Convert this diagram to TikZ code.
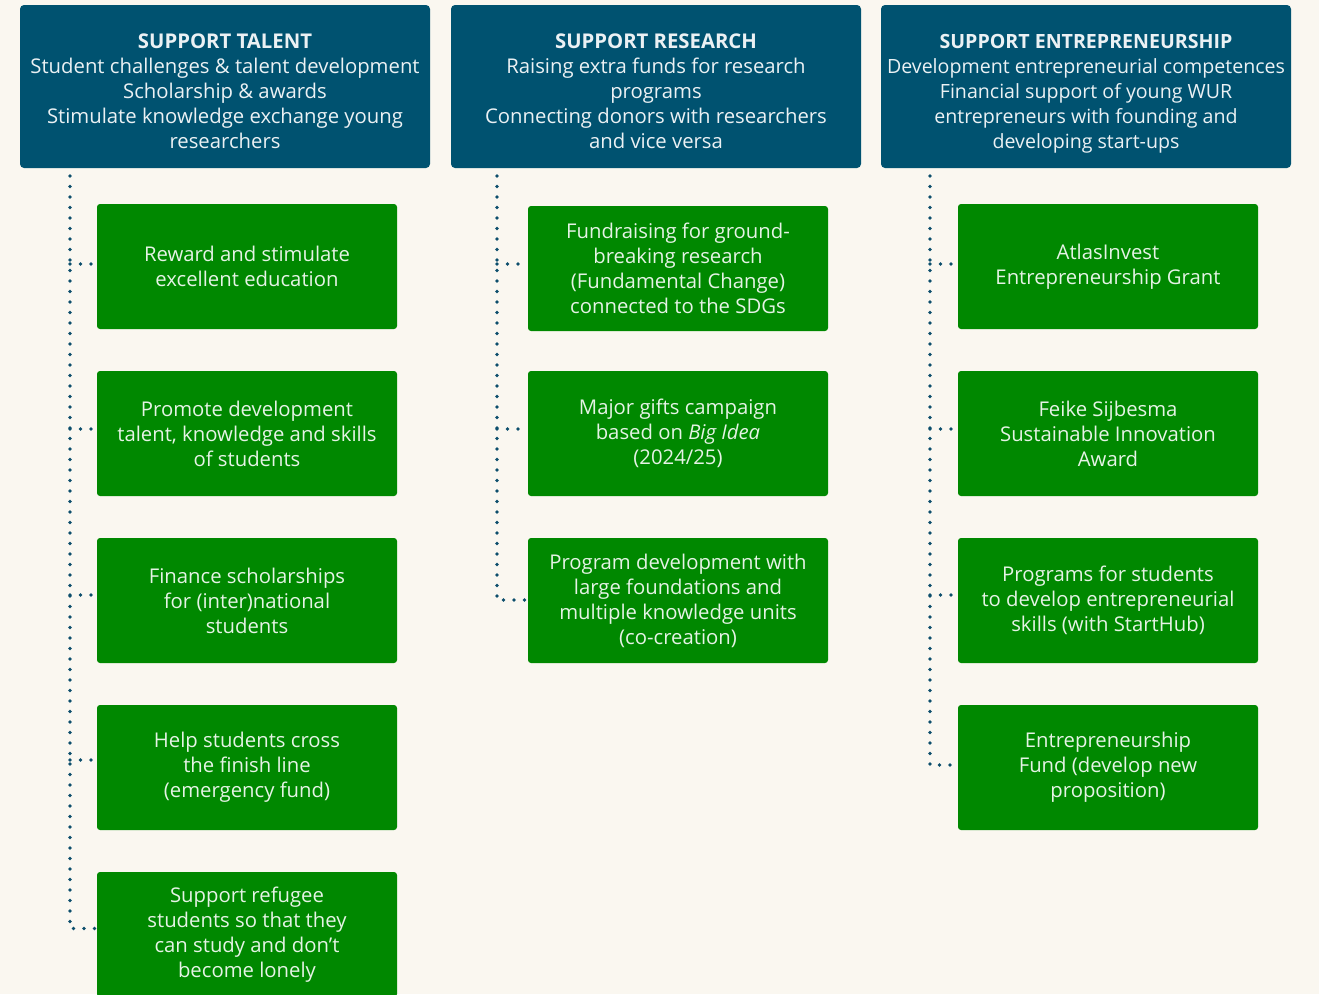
\documentclass[tikz,border=0pt]{standalone}
\usepackage{fontspec}
\setmainfont{Open Sans}
\definecolor{headblue}{RGB}{0,82,112}
\definecolor{boxgreen}{RGB}{0,136,0}
\definecolor{paper}{RGB}{250,247,240}
\definecolor{dotblue}{RGB}{12,78,108}
\tikzset{
  headbox/.style={fill=headblue, rounded corners=4pt, inner xsep=0pt, minimum width=410pt, minimum height=163pt, text height=124pt, text depth=0pt, align=center, text=white!92!headblue, font=\fontsize{20.3}{25}\selectfont},
  itembox/.style={fill=boxgreen, rounded corners=3pt, minimum width=300pt, minimum height=125pt, align=center, text=white!90!boxgreen, font=\fontsize{20.3}{25}\selectfont},
  dotline/.style={draw=dotblue, line width=3.6pt, line cap=round, dash pattern=on 0pt off 10.5pt}
}
\begin{document}
\begin{tikzpicture}[x=1pt, y=-1pt]
\useasboundingbox (0,0) rectangle (1319,994);
\fill[paper] (0,0) rectangle (1319,994);
\clip (0,0) rectangle (1319,994);
\node[headbox] (talent) at (225,86.5) {\textbf{SUPPORT TALENT}\\Student challenges \& talent development\\Scholarship \& awards\\Stimulate knowledge exchange young\\researchers};
\node[headbox] (research) at (656,86.5) {\textbf{SUPPORT RESEARCH}\\Raising extra funds for research\\programs\\Connecting donors with researchers\\and vice versa};
\node[headbox, font=\fontsize{19.6}{25}\selectfont] (entre) at (1086,86.5) {\textbf{SUPPORT ENTREPRENEURSHIP}\\Development entrepreneurial competences\\Financial support of young WUR\\entrepreneurs with founding and\\developing start-ups};

\node[itembox] (t1) at (247,266.5) {Reward and stimulate\\excellent education};
\node[itembox] (t2) at (247,433.5) {Promote development\\talent, knowledge and skills\\of students};
\node[itembox] (t3) at (247,600.5) {Finance scholarships\\for (inter)national\\students};
\node[itembox] (t4) at (247,767.5) {Help students cross\\the finish line\\(emergency fund)};
\node[itembox] (t5) at (247,934.5) {Support refugee\\students so that they\\can study and don't\\become lonely};

\node[itembox] (r1) at (678,268.5) {Fundraising for ground-\\breaking research\\(Fundamental Change)\\connected to the SDGs};
\node[itembox] (r2) at (678,433.5) {Major gifts campaign\\based on \textit{Big Idea}\\(2024/25)};
\node[itembox] (r3) at (678,600.5) {Program development with\\large foundations and\\multiple knowledge units\\(co-creation)};

\node[itembox] (e1) at (1108,266.5) {AtlasInvest\\Entrepreneurship Grant};
\node[itembox] (e2) at (1108,433.5) {Feike Sijbesma\\Sustainable Innovation\\Award};
\node[itembox] (e3) at (1108,600.5) {Programs for students\\to develop entrepreneurial\\skills (with StartHub)};
\node[itembox] (e4) at (1108,767.5) {Entrepreneurship\\Fund (develop new\\proposition)};

\coordinate (tt) at (70,176);
\coordinate (rt) at (497,176);
\coordinate (et) at (930,176);

\draw[dotline] (tt) |- ([yshift=6pt]t5.west);
\draw[dotline] (tt |- t1.west) ++(0,-2.5) -- ([yshift=2.5pt]t1.west);
\draw[dotline] (tt |- t2.west) ++(0,-4.5) -- ([yshift=4.5pt]t2.west);
\draw[dotline] (tt |- t3.west) ++(0,-5.5) -- ([yshift=5.5pt]t3.west);
\draw[dotline] (tt |- t4.west) ++(0,-7.5) -- ([yshift=7.5pt]t4.west);

\draw[dotline] (rt) |- ([yshift=0.5pt]r3.west);
\draw[dotline] (rt |- r1.west) ++(0,-4.5) -- ([yshift=4.5pt]r1.west);
\draw[dotline] (rt |- r2.west) ++(0,-4.5) -- ([yshift=4.5pt]r2.west);

\draw[dotline] (et) |- ([yshift=2.5pt]e4.west);
\draw[dotline] (et |- e1.west) ++(0,-2.5) -- ([yshift=2.5pt]e1.west);
\draw[dotline] (et |- e2.west) ++(0,-4.5) -- ([yshift=4.5pt]e2.west);
\draw[dotline] (et |- e3.west) ++(0,-5.5) -- ([yshift=5.5pt]e3.west);
\end{tikzpicture}
\end{document}
